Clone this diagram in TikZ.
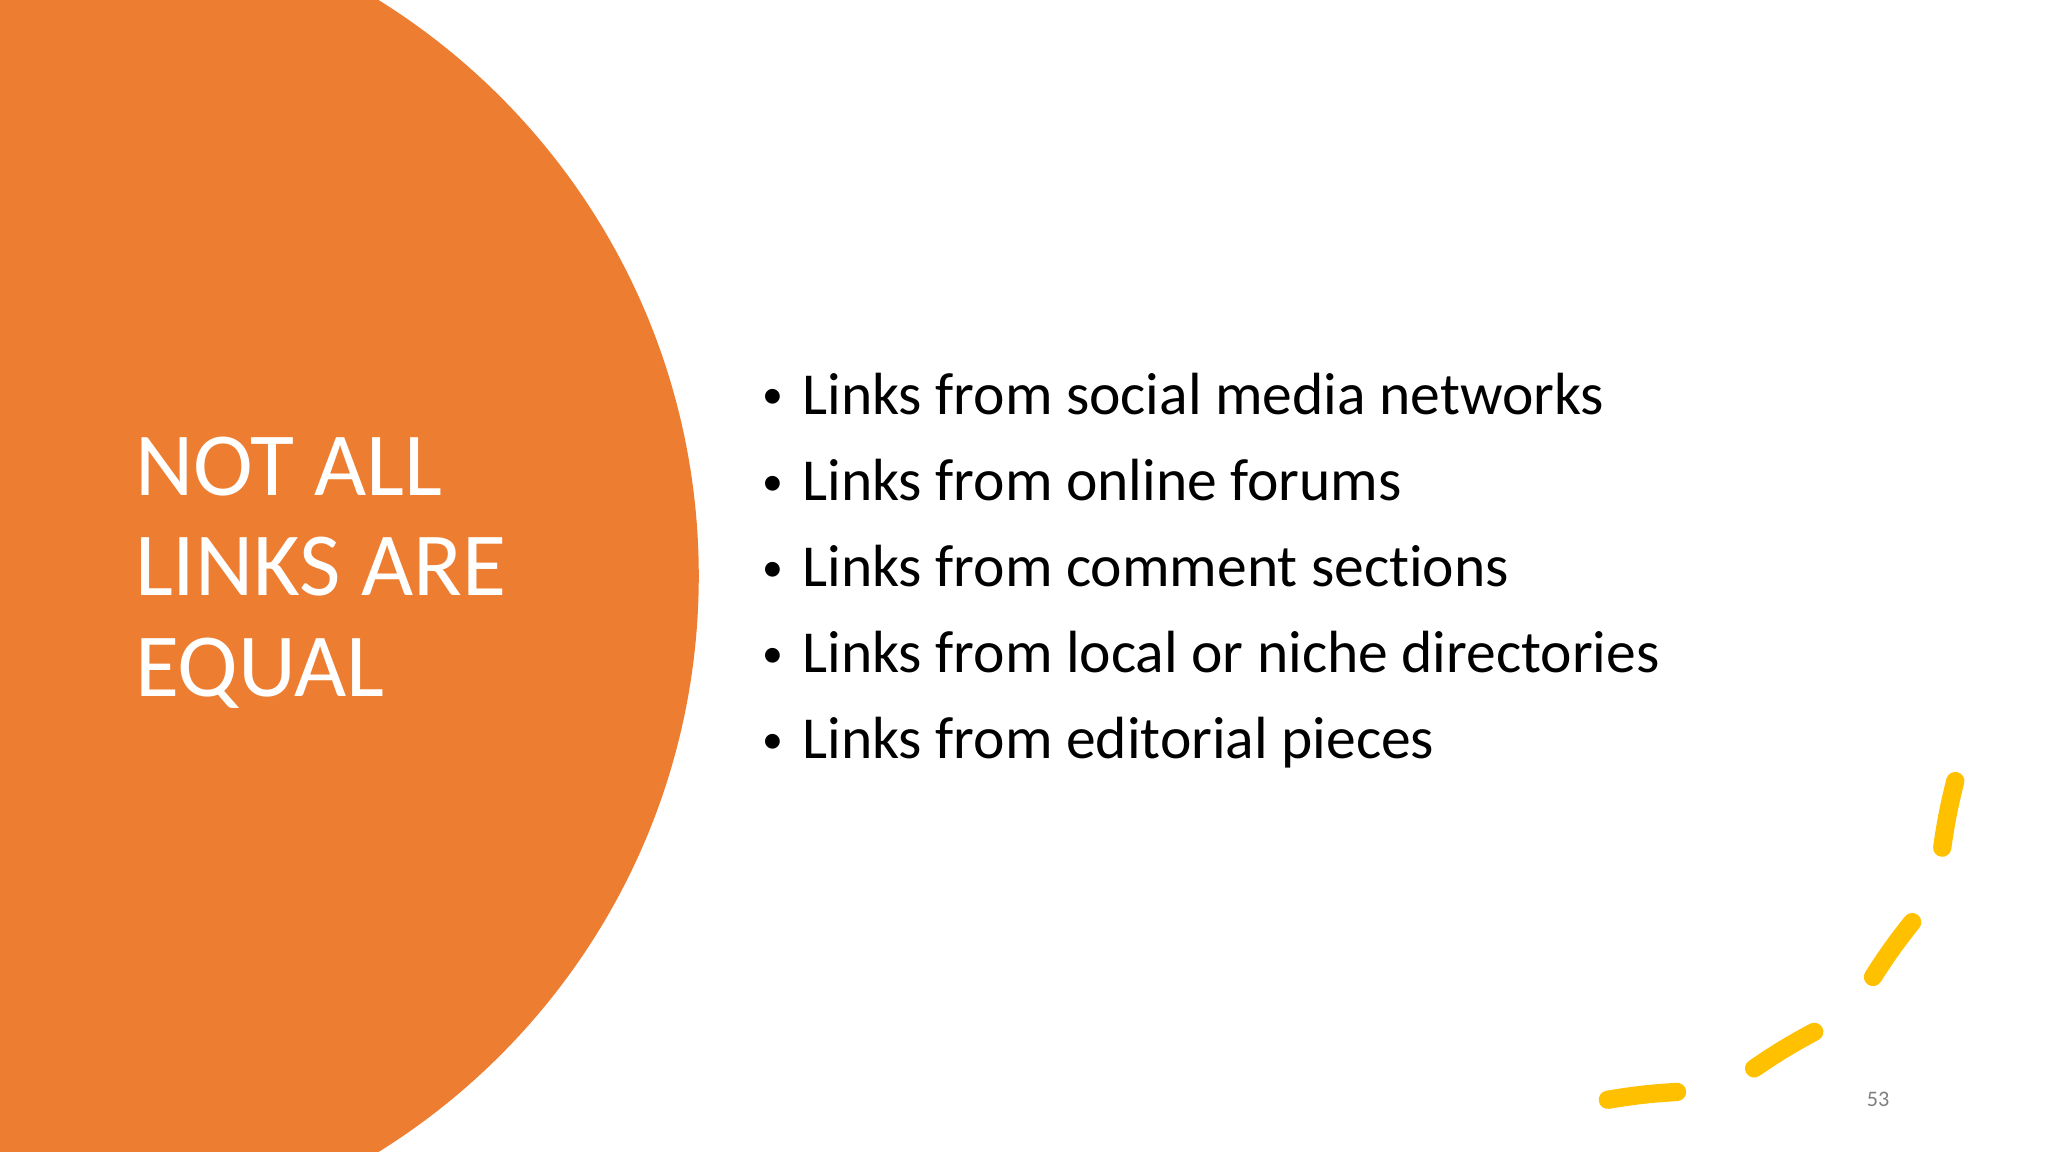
\documentclass[tikz,border=0pt]{standalone}
\usepackage{fontspec}
\setmainfont[Ligatures=NoCommon]{Carlito}
\definecolor{orng}{HTML}{ED7D31}
\definecolor{ylw}{HTML}{FFC000}
\begin{document}
\begin{tikzpicture}[x=0.5pt,y=-0.5pt,
  bul/.style={anchor=base west,inner sep=0,font=\fontsize{22.8}{28}\selectfont,text=black},
  dsh/.style={draw=ylw,line width=7pt,line cap=round}]
\useasboundingbox (0,0) rectangle (1568,882);
\fill[white] (0,0) rectangle (1568,882);
\begin{scope}
\clip (0,0) rectangle (1568,882);
\fill[orng] (16,441) circle[radius=519*0.5pt];
\end{scope}
\node[anchor=base west,inner sep=0,text=white,align=left,font=\fontsize{34.5}{38.5}\selectfont] (title) at (103,533) {NOT ALL\\LINKS ARE\\EQUAL};
\foreach \t [count=\i] in {Links from social media networks,Links from online forums,Links from comment sections,Links from local or niche directories,Links from editorial pieces}{
  \node[bul] (b\i) at (614,{317+66*(\i-1)}) {\t};
  \node[anchor=base,inner sep=0,font=\fontsize{16}{20}\selectfont] (d\i) at (592,{313+66*(\i-1)}) {•};
}
\draw[dsh] (1231,842) to[bend left=3] (1284,836);
\draw[dsh] (1343,818) to[bend left=3] (1389,790);
\draw[dsh] (1434,748) to[bend left=3] (1464,706);
\draw[dsh] (1487,649) to[bend left=3] (1497,598);
\node[anchor=base,inner sep=0,text=gray,font=\fontsize{8.5}{10}\selectfont] (pg) at (1438,847) {53};
\end{tikzpicture}
\end{document}
